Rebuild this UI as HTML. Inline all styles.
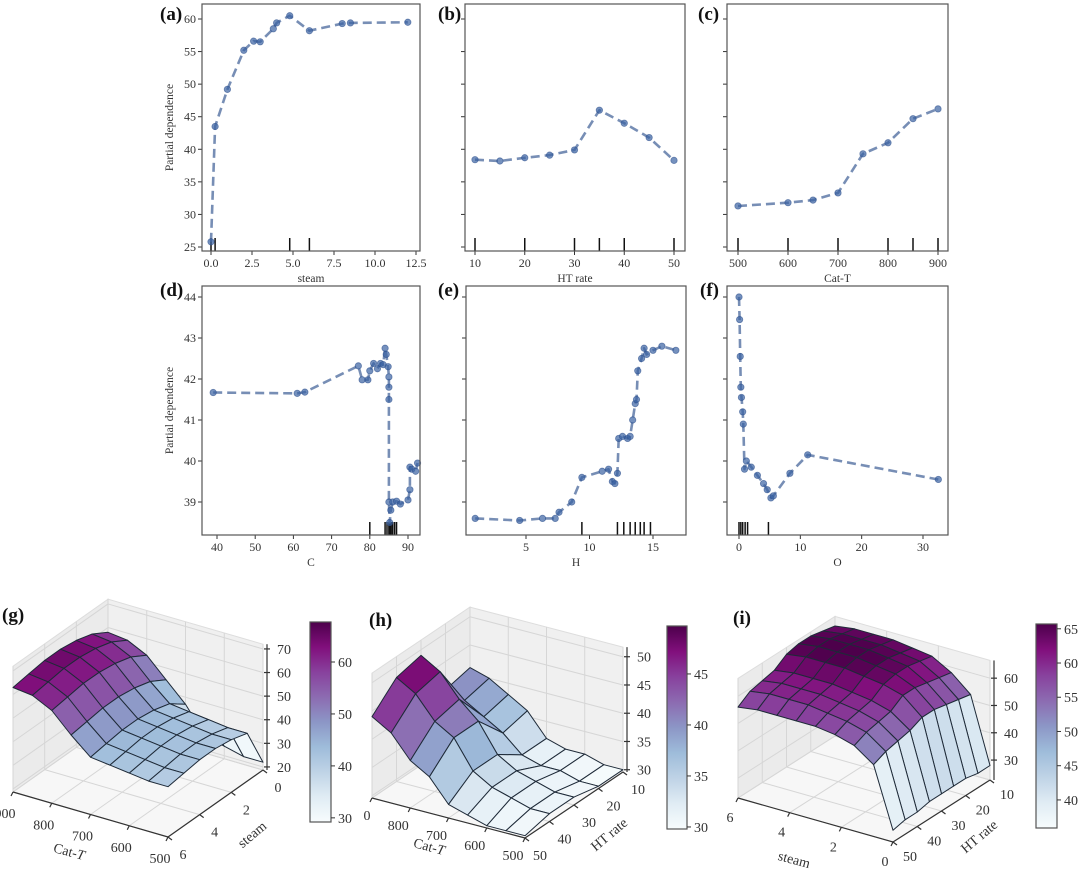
<!DOCTYPE html>
<html><head><meta charset="utf-8">
<style>
html,body{margin:0;padding:0;background:#fff;}
svg{display:block;font-family:"Liberation Serif","DejaVu Serif",serif;}
</style></head>
<body>
<svg id="fig" width="1080" height="870" viewBox="0 0 1080 870" xmlns="http://www.w3.org/2000/svg">
<defs>
<clipPath id="clipH"><rect x="363" y="590" width="717" height="280"/></clipPath>
</defs>
</svg>
<script>
// ---------- 2D partial dependence data ----------
const steamX = [0,0.25,1,2,2.6,3,3.8,4,4.8,6,8,8.5,12];
const steamY = [25.8,43.5,49.2,55.2,56.6,56.5,58.5,59.4,60.5,58.2,59.3,59.4,59.5];
const steamRug = [0,0.25,4.8,6];
const htX = [10,15,20,25,30,35,40,45,50];
const htY = [38.4,38.2,38.7,39.1,39.9,46.0,44.0,41.8,38.3];
const htRug = [10,20,30,35,40,50];
const catX = [500,600,650,700,750,800,850,900];
const catY = [31.3,31.8,32.2,33.3,39.3,41.0,44.7,46.2];
const catRug = [500,600,700,800,850,900];
const cX = [39,61,63,77,78,79.5,80,81,82,82.8,83.5,84,84.3,84.8,85,85,85,85,85.2,85.5,86,87,88,90,90.5,90.5,91,92,92.5];
const cY = [41.67,41.65,41.68,42.32,41.98,41.98,42.2,42.38,42.25,42.38,42.35,42.75,42.6,42.3,42.05,41.8,41.5,39.0,38.5,38.8,39.0,39.02,38.95,39.05,39.3,39.85,39.8,39.75,39.95];
const cRug = [80,84,84.5,85,85.3,85.6,86,86.5,87];
const hX = [1,4.5,6.3,7.3,7.6,8.6,9.4,11,11.5,11.8,12,12.2,12.3,12.6,13,13.2,13.4,13.6,13.7,13.8,14.1,14.3,14.5,15,15.7,16.8];
const hY = [38.6,38.55,38.6,38.6,38.75,39.0,39.6,39.75,39.8,39.5,39.45,39.7,40.55,40.6,40.55,40.6,41.0,41.4,41.5,42.2,42.5,42.75,42.6,42.7,42.8,42.7];
const hRug = [9.4,12.2,12.7,13.2,13.6,14,14.3,14.8];
const oX = [0,0.1,0.2,0.3,0.4,0.6,0.7,0.9,1.2,2,3,4,4.6,5.2,5.6,8.3,11.2,32.5];
const oY = [44.0,43.45,42.55,41.8,41.55,41.2,40.9,39.8,40.0,39.85,39.65,39.45,39.3,39.1,39.15,39.7,40.15,39.55];
const oRug = [0,0.3,0.6,1.0,1.4,4.8];
const topYTicks = [25,30,35,40,45,50,55,60];
const botYTicks = [39,40,41,42,43,44];
const steamTicks = [0,2.5,5,7.5,10,12.5];
const steamTickLabels = ["0.0","2.5","5.0","7.5","10.0","12.5"];
const htTicks = [10,20,30,40,50];
const catTicks = [500,600,700,800,900];
const cTicks = [40,50,60,70,80,90];
const hTicks = [5,10,15];
const oTicks = [0,10,20,30];

// ---------- 3D surface data ----------
const gCat = [500,550,600,650,700,750,800,850,900];
const gSteam = [0,1,2,3,4,5,6];
const gZ = [
 [22,22,24,26,37,45,53,57,58],
 [39,39,40,41,42,49,57,61,62],
 [41,41,42,43,44,51,59,63,64],
 [42,42,43,44,45,52,60,64,65],
 [42,42,43,44,45,52,60,64,65],
 [41,41,42,43,44,51,59,63,64],
 [40,40,41,42,43,50,58,62,63]];
const hCat = [500,550,600,650,700,750,800,850,900];
const hHT = [10,20,30,40,50];
const hZ = [
 [30,30,31,31,32,36,38,40,41],
 [30,30,31,31,32,35,37,39,40],
 [31,31,32,33,35,40,43,47,49],
 [31,31,32,33,35,40,42,46,48],
 [30,30,30,31,32,36,38,42,44]];
const iSteam = [0,0.75,1.5,2.25,3,3.75,4.5,5.25,6];
const iHT = [10,15,20,25,30,35,40,45,50];
const iZ = [
 [28,52,58,62,63,64,64,64,63],
 [28,53,59,63,64,65,65,65,64],
 [29,54,60,64,65,66,66,66,65],
 [29,55,61,64,65,66,66,66,65],
 [29,55,61,63,64,65,65,65,64],
 [29,53,58,60,61,62,62,62,61],
 [28,52,57,59,60,61,61,61,60],
 [28,51,56,58,59,60,60,60,59],
 [27,49,54,56,57,57,57,57,56]];
const gZTicks=[20,30,40,50,60,70], gCbTicks=[30,40,50,60];
const hZTicks=[30,35,40,45,50], hCbTicks=[30,35,40,45];
const iZTicks=[30,40,50,60], iCbTicks=[40,45,50,55,60,65];
const gCatTicks=[500,600,700,800,900], gSteamTicks=[0,2,4,6];
const hCatTicks=[500,600,700,800,900], hHTTicks=[10,20,30,40,50];
const iSteamTicks=[0,2,4,6], iHTTicks=[10,20,30,40,50];

const NS="http://www.w3.org/2000/svg";
const svg=document.getElementById('fig');
function mk(tag,attrs,parent){const e=document.createElementNS(NS,tag);for(const k in attrs)e.setAttribute(k,attrs[k]);(parent||svg).appendChild(e);return e;}
function lin(d0,d1,r0,r1){return v=>r0+(v-d0)*(r1-r0)/(d1-d0);}

function panel2d(c){
  const g=mk('g',{});
  
  
  const sx=lin(c.xd[0],c.xd[1],c.xr[0],c.xr[1]);
  const sy=lin(c.yd[0],c.yd[1],c.yr[0],c.yr[1]);
  const [L,T,R,B]=c.box;
  c.yTicks.forEach(v=>{
    const y=sy(v);
    const t=mk('line',{x1:L-4,x2:L,y1:y,y2:y,stroke:'#333','stroke-width':1},g);
    
    
    if(c.yLabels){
      const tx=mk('text',{x:L-6,y:y+4,'text-anchor':'end','font-size':12,fill:'#333'},g);
      tx.textContent=v;
      
      
    }
  });
  c.xTicks.forEach((v,i)=>{
    const x=sx(v);
    const t=mk('line',{x1:x,x2:x,y1:B,y2:B+4,stroke:'#333','stroke-width':1},g);
    
    
    const tx=mk('text',{x:x,y:B+16,'text-anchor':'middle','font-size':12,fill:'#333'},g);
    tx.textContent=c.xLabels?c.xLabels[i]:v;
    
    
  });
  c.rug.forEach(v=>{
    const x=sx(v);
    const r=mk('line',{x1:x,x2:x,y1:B,y2:B-13,stroke:'#111','stroke-width':1.5},g);
    
    
  });
  const pts=c.x.map((v,i)=>sx(v).toFixed(1)+','+sy(c.y[i]).toFixed(1)).join(' ');
  const pl=mk('polyline',{points:pts,fill:'none',stroke:'#5f7aa8','stroke-opacity':0.85,'stroke-width':2.6,'stroke-dasharray':'9,5','stroke-linejoin':'round'},g);
  
  
  c.x.forEach((v,i)=>{
    const p=mk('circle',{cx:sx(v),cy:sy(c.y[i]),r:3.2,fill:'#3a62a3','fill-opacity':0.7,stroke:'#2b4f8c','stroke-opacity':0.6,'stroke-width':0.8},g);
    
    
  });
  const box=mk('rect',{x:L,y:T,width:R-L,height:B-T,fill:'none',stroke:'#555','stroke-width':1.2},g);
  
  
  const xl=mk('text',{x:(L+R)/2,y:B+31,'text-anchor':'middle','font-size':11.5,fill:'#333'},g);
  xl.textContent=c.xTitle;
  
  
  if(c.yTitle){
    const yc=(T+B)/2;
    const yl=mk('text',{x:173,y:yc,'text-anchor':'middle','font-size':11.5,fill:'#333',transform:`rotate(-90 173 ${yc})`},g);
    yl.textContent=c.yTitle;
    
    
  }
  const lt=mk('text',{x:c.letter[0],y:c.letter[1],'font-size':19,'font-weight':'bold',fill:'#111'},g);
  lt.textContent=c.letterText;
  
  
}

const topY=[25,60,247,19], botY=[39,44,502,297];
panel2d({name:'panel-a-steam',box:[202,4,420,251],xd:[0,12.5],xr:[211,416],yd:[topY[0],topY[1]],yr:[topY[2],topY[3]],x:steamX,y:steamY,rug:steamRug,xTicks:steamTicks,xLabels:steamTickLabels,yTicks:topYTicks,yLabels:true,xTitle:'steam',yTitle:'Partial dependence',letter:[160,20],letterText:'(a)'});
panel2d({name:'panel-b-ht-rate',box:[465,4,685,251],xd:[10,50],xr:[475,674],yd:[topY[0],topY[1]],yr:[topY[2],topY[3]],x:htX,y:htY,rug:htRug,xTicks:htTicks,yTicks:topYTicks,yLabels:false,xTitle:'HT rate',letter:[438,20],letterText:'(b)'});
panel2d({name:'panel-c-cat-t',box:[727,4,948,251],xd:[500,900],xr:[738,938],yd:[topY[0],topY[1]],yr:[topY[2],topY[3]],x:catX,y:catY,rug:catRug,xTicks:catTicks,yTicks:topYTicks,yLabels:false,xTitle:'Cat-T',letter:[698,20],letterText:'(c)'});
panel2d({name:'panel-d-c',box:[202,286,420,535],xd:[40,90],xr:[217,408],yd:[botY[0],botY[1]],yr:[botY[2],botY[3]],x:cX,y:cY,rug:cRug,xTicks:cTicks,yTicks:botYTicks,yLabels:true,xTitle:'C',yTitle:'Partial dependence',letter:[160,296],letterText:'(d)'});
panel2d({name:'panel-e-h',box:[466,286,686,535],xd:[5,15],xr:[526,653],yd:[botY[0],botY[1]],yr:[botY[2],botY[3]],x:hX,y:hY,rug:hRug,xTicks:hTicks,yTicks:botYTicks,yLabels:false,xTitle:'H',letter:[438,296],letterText:'(e)'});
panel2d({name:'panel-f-o',box:[727,286,948,535],xd:[0,30],xr:[739,923],yd:[botY[0],botY[1]],yr:[botY[2],botY[3]],x:oX,y:oY,rug:oRug,xTicks:oTicks,yTicks:botYTicks,yLabels:false,xTitle:'O',letter:[700,296],letterText:'(f)'});

const BUPU=[[247,252,253],[224,236,244],[191,211,230],[158,188,218],[140,150,198],[140,107,177],[136,65,157],[129,15,124],[77,0,75]];
function bupu(t){t=Math.max(0,Math.min(1,t));const p=t*8,i=Math.min(7,Math.floor(p)),f=p-i;const a=BUPU[i],b=BUPU[i+1];return `rgb(${Math.round(a[0]+(b[0]-a[0])*f)},${Math.round(a[1]+(b[1]-a[1])*f)},${Math.round(a[2]+(b[2]-a[2])*f)})`;}

function panel3d(c){
  const g=mk('g',c.clip?{'clip-path':'url(#clipH)'}:{});
  
  
  const [A,B,D]=[c.A,c.B,c.D];
  const C=[B[0]+D[0]-A[0],B[1]+D[1]-A[1]];
  const P=(u,v,z)=>[A[0]+u*(B[0]-A[0])+v*(D[0]-A[0]), A[1]+u*(B[1]-A[1])+v*(D[1]-A[1])-(Math.max(z,c.zmin)-c.zmin)*c.k];
  const zt=c.zmax;
  const poly=(pts,attrs,nm)=>{const e=mk('polygon',Object.assign({points:pts.map(p=>p[0].toFixed(1)+','+p[1].toFixed(1)).join(' ')},attrs),g);return e;};
  const line=(p,q,attrs,nm)=>{const e=mk('line',Object.assign({x1:p[0],y1:p[1],x2:q[0],y2:q[1]},attrs),g);return e;};
  poly([P(0,0,c.zmin),P(1,0,c.zmin),P(1,1,c.zmin),P(0,1,c.zmin)],{fill:'#f7f7f7',stroke:'#ddd'},'floor-pane');
  poly([P(0,1,c.zmin),P(1,1,c.zmin),P(1,1,zt),P(0,1,zt)],{fill:'#f0f0f0',stroke:'#ddd'},'back-pane');
  poly([P(0,0,c.zmin),P(0,1,c.zmin),P(0,1,zt),P(0,0,zt)],{fill:'#ebebeb',stroke:'#ddd'},'side-pane');
  const gs={stroke:'#d6d6d6','stroke-width':1};
  c.uTicks.forEach(t=>{const u=c.uf(t);line(P(u,0,c.zmin),P(u,1,c.zmin),gs,'floor-gridline');line(P(u,1,c.zmin),P(u,1,zt),gs,'wall-gridline');});
  c.vTicks.forEach(t=>{const v=c.vf(t);line(P(0,v,c.zmin),P(1,v,c.zmin),gs,'floor-gridline');line(P(0,v,c.zmin),P(0,v,zt),gs,'wall-gridline');});
  c.zTicks.forEach(z=>{line(P(0,1,z),P(1,1,z),gs,'wall-gridline');line(P(0,0,z),P(0,1,z),gs,'wall-gridline');});
  const ax={stroke:'#333','stroke-width':1.2};
  line(P(0,0,c.zmin),P(1,0,c.zmin),ax,'x-axis-line');
  line(P(1,0,c.zmin),P(1,1,c.zmin),ax,'y-axis-line');
  const zx=C[0]+4;
  const zy=z=>C[1]-(z-c.zmin)*c.k;
  line([zx,zy(c.zmin)],[zx,zy(zt)],ax,'z-axis-line');
  c.zTicks.forEach(z=>{line([zx-3,zy(z)],[zx+3,zy(z)],ax,'z-tick');
    const t=mk('text',{x:C[0]+14,y:zy(z)+5,'font-size':14,fill:'#333'},g);t.textContent=z;
    
    });
  c.uTicks.forEach(tk=>{const p=P(c.uf(tk),0,c.zmin);line(p,[p[0]-2,p[1]+4],ax,'x-tick');
    const t=mk('text',{x:p[0]+c.uOff[0],y:p[1]+c.uOff[1],'text-anchor':'middle','font-size':14,fill:'#333'},g);t.textContent=tk;
    
    });
  c.vTicks.forEach(tk=>{const p=P(1,c.vf(tk),c.zmin);line(p,[p[0]+4,p[1]+3],ax,'y-tick');
    const t=mk('text',{x:p[0]+c.vOff[0],y:p[1]+c.vOff[1],'text-anchor':'middle','font-size':14,fill:'#333'},g);t.textContent=tk;
    
    });
  const quads=[];
  const Z=c.Z, us=c.uVals.map(c.uf), vs=c.vVals.map(c.vf);
  for(let r=0;r<Z.length-1;r++)for(let q=0;q<Z[0].length-1;q++){
    const pts=[P(us[q],vs[r],Z[r][q]),P(us[q+1],vs[r],Z[r][q+1]),P(us[q+1],vs[r+1],Z[r+1][q+1]),P(us[q],vs[r+1],Z[r+1][q])];
    const fl=P((us[q]+us[q+1])/2,(vs[r]+vs[r+1])/2,c.zmin);
    const avg=(Z[r][q]+Z[r][q+1]+Z[r+1][q+1]+Z[r+1][q])/4;
    quads.push({pts,depth:fl[1],avg});
  }
  quads.sort((a,b)=>a.depth-b.depth);
  quads.forEach(qd=>poly(qd.pts,{fill:bupu((qd.avg-c.vmin)/(c.vmax-c.vmin)),stroke:'#1e2a38','stroke-width':1,'stroke-linejoin':'round'},'surface-face'));
  const t1=mk('text',{x:c.uTitle[0],y:c.uTitle[1],'text-anchor':'middle','font-size':14,fill:'#333',transform:`rotate(15 ${c.uTitle[0]} ${c.uTitle[1]})`},g);
  t1.innerHTML=c.uTitleHTML;
  
  
  const t2=mk('text',{x:c.vTitle[0],y:c.vTitle[1],'text-anchor':'middle','font-size':14,fill:'#333',transform:`rotate(-40 ${c.vTitle[0]} ${c.vTitle[1]})`},g);
  t2.textContent=c.vTitleText;
  
  
  const cb=c.cb;
  const gid='grad'+c.name;
  const lg=mk('linearGradient',{id:gid,x1:0,y1:1,x2:0,y2:0},svg.querySelector('defs'));
  for(let i=0;i<=8;i++)mk('stop',{offset:(i/8),'stop-color':bupu(i/8)},lg);
  const cr=mk('rect',{x:cb.x0,y:cb.y0,width:cb.x1-cb.x0,height:cb.y1-cb.y0,fill:`url(#${gid})`,stroke:'#555','stroke-width':1.2});
  
  
  const cy=lin(c.vmin,c.vmax,cb.y1,cb.y0);
  c.cbTicks.forEach(v=>{const y=cy(v);
    const tl=mk('line',{x1:cb.x1,x2:cb.x1+4,y1:y,y2:y,stroke:'#333'});
    
    
    const tx=mk('text',{x:cb.x1+7,y:y+5,'font-size':14,fill:'#333'});tx.textContent=v;
    
    });
  const lt=mk('text',{x:c.letter[0],y:c.letter[1],'font-size':19,'font-weight':'bold',fill:'#111'});
  lt.textContent=c.letterText;
  
  
}

panel3d({name:'panel-g-3d',A:[13,792],B:[168,837],D:[108,725],zmin:18.7,zmax:72,k:2.36,
  Z:gZ,uVals:gCat,vVals:gSteam,uf:t=>(900-t)/400,vf:s=>(6-s)/6,
  uTicks:gCatTicks,vTicks:gSteamTicks,zTicks:gZTicks,uOff:[-8,26],vOff:[15,22],
  uTitle:[68,856],uTitleHTML:'Cat-<tspan font-style="italic">T</tspan>',vTitle:[255,838],vTitleText:'steam',
  vmin:29.2,vmax:67.7,cbTicks:gCbTicks,cb:{x0:310,x1:331,y0:622,y1:822},letter:[2,621],letterText:'(g)'});
panel3d({name:'panel-h-3d',clip:true,A:[372,798],B:[525,838],D:[470,732],zmin:29.6,zmax:51.7,k:5.65,
  Z:hZ,uVals:hCat,vVals:hHT,uf:t=>(900-t)/400,vf:h=>(50-h)/40,
  uTicks:hCatTicks,vTicks:hHTTicks,zTicks:hZTicks,uOff:[-12,22],vOff:[15,22],
  uTitle:[428,851],uTitleHTML:'Cat-<tspan font-style="italic">T</tspan>',vTitle:[612,838],vTitleText:'HT rate',
  vmin:29.8,vmax:49.7,cbTicks:hCbTicks,cb:{x0:667,x1:687,y0:626,y1:829},letter:[369,626],letterText:'(h)'});
panel3d({name:'panel-i-3d',A:[738,798],B:[893,842],D:[835,736],zmin:22.7,zmax:66.5,k:2.73,
  Z:iZ,uVals:iSteam,vVals:iHT,uf:s=>(6-s)/6,vf:h=>(50-h)/40,
  uTicks:iSteamTicks,vTicks:iHTTicks,zTicks:iZTicks,uOff:[-8,24],vOff:[17,19],
  uTitle:[793,864],uTitleHTML:'steam',vTitle:[982,840],vTitleText:'HT rate',
  vmin:35.9,vmax:65.7,cbTicks:iCbTicks,cb:{x0:1036,x1:1057,y0:624,y1:828},letter:[733,624],letterText:'(i)'});
</script>
</body></html>
